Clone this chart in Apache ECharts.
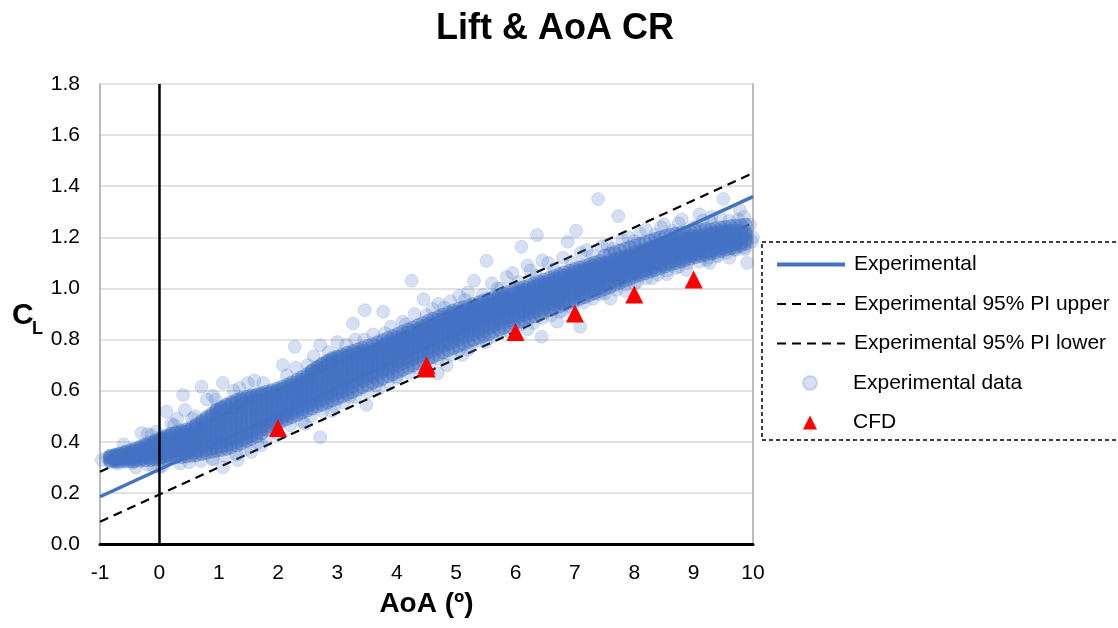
<!DOCTYPE html>
<html>
<head>
<meta charset="utf-8">
<script src="https://cdn.jsdelivr.net/npm/echarts@6/dist/echarts.min.js"></script>
<style>
  html, body { margin: 0; padding: 0; background: #ffffff; }
  #chart { width: 1118px; height: 628px; }
</style>
</head>
<body>
<div id="chart"></div>
<script>
// Linear fit of the experimental lift curve and its 95% prediction band (end points at AoA -1 and 10)
const fitAoA = [-1, 10];
const fitCL = [0.185, 1.359];
const piUpperCL = [0.283, 1.451];
const piLowerCL = [0.087, 1.257];

// CFD results
const cfdAoA = [2, 4.5, 4.5, 6, 7, 8, 9];
const cfdCL = [0.454, 0.687, 0.699, 0.830, 0.902, 0.976, 1.035];

// Experimental samples, dense part of the cloud: CL readings grouped by AoA
const coreAoA = [
  -0.83, -0.74, -0.66, -0.57, -0.48, -0.41, -0.32, -0.24, -0.15, -0.07,
  0.02, 0.11, 0.19, 0.28, 0.37, 0.45, 0.54, 0.62, 0.71, 0.79,
  0.88, 0.96, 1.04, 1.13, 1.21, 1.30, 1.38, 1.47, 1.55, 1.64,
  1.72, 1.81, 1.89, 1.98, 2.06, 2.15, 2.23, 2.32, 2.40, 2.49,
  2.57, 2.66, 2.74, 2.83, 2.91, 3.00, 3.08, 3.17, 3.25, 3.34,
  3.42, 3.51, 3.59, 3.68, 3.76, 3.85, 3.93, 4.02, 4.10, 4.19,
  4.27, 4.36, 4.44, 4.53, 4.61, 4.70, 4.78, 4.87, 4.95, 5.04,
  5.12, 5.21, 5.29, 5.38, 5.46, 5.55, 5.63, 5.72, 5.80, 5.89,
  5.97, 6.06, 6.14, 6.23, 6.31, 6.40, 6.48, 6.57, 6.65, 6.74,
  6.82, 6.91, 6.99, 7.08, 7.16, 7.25, 7.33, 7.42, 7.50, 7.59,
  7.67, 7.76, 7.84, 7.93, 8.01, 8.10, 8.18, 8.27, 8.35, 8.44,
  8.52, 8.61, 8.69, 8.78, 8.86, 8.95, 9.03, 9.12, 9.20, 9.29,
  9.37, 9.46, 9.54, 9.63, 9.71, 9.80, 9.88
];
const coreCL = [
  [0.328, 0.336, 0.341],
  [0.327, 0.333, 0.342, 0.347],
  [0.331, 0.338, 0.343, 0.351],
  [0.329, 0.336, 0.345, 0.352, 0.358],
  [0.333, 0.339, 0.348, 0.356, 0.362],
  [0.331, 0.342, 0.350, 0.355, 0.366],
  [0.335, 0.341, 0.352, 0.362, 0.369, 0.376],
  [0.338, 0.346, 0.354, 0.366, 0.372, 0.383],
  [0.336, 0.348, 0.357, 0.363, 0.377, 0.385, 0.392],
  [0.341, 0.350, 0.358, 0.371, 0.379, 0.391, 0.398],
  [0.339, 0.352, 0.362, 0.370, 0.384, 0.392, 0.404, 0.410],
  [0.344, 0.353, 0.366, 0.377, 0.386, 0.399, 0.408, 0.418],
  [0.347, 0.360, 0.368, 0.381, 0.394, 0.402, 0.415, 0.424],
  [0.349, 0.362, 0.374, 0.383, 0.397, 0.409, 0.418, 0.431],
  [0.352, 0.360, 0.375, 0.388, 0.396, 0.411, 0.424, 0.436],
  [0.354, 0.367, 0.378, 0.392, 0.403, 0.414, 0.429, 0.441],
  [0.357, 0.370, 0.383, 0.393, 0.408, 0.421, 0.433, 0.447],
  [0.360, 0.373, 0.386, 0.399, 0.412, 0.425, 0.440, 0.452, 0.461],
  [0.365, 0.379, 0.390, 0.405, 0.419, 0.433, 0.446, 0.462, 0.474],
  [0.369, 0.384, 0.397, 0.413, 0.427, 0.444, 0.458, 0.473, 0.489],
  [0.374, 0.388, 0.405, 0.419, 0.437, 0.452, 0.469, 0.486, 0.502],
  [0.378, 0.395, 0.410, 0.426, 0.443, 0.460, 0.476, 0.494, 0.510, 0.521],
  [0.382, 0.397, 0.414, 0.431, 0.448, 0.466, 0.483, 0.499, 0.516, 0.530],
  [0.386, 0.403, 0.420, 0.436, 0.455, 0.471, 0.490, 0.507, 0.523, 0.539],
  [0.391, 0.409, 0.425, 0.444, 0.461, 0.480, 0.497, 0.513, 0.531, 0.548],
  [0.399, 0.416, 0.435, 0.451, 0.470, 0.487, 0.506, 0.522, 0.539, 0.555],
  [0.407, 0.425, 0.443, 0.460, 0.479, 0.497, 0.513, 0.531, 0.548, 0.563],
  [0.416, 0.434, 0.451, 0.470, 0.488, 0.505, 0.524, 0.540, 0.556, 0.569],
  [0.424, 0.441, 0.460, 0.478, 0.495, 0.513, 0.531, 0.546, 0.561, 0.575],
  [0.435, 0.452, 0.469, 0.487, 0.504, 0.521, 0.537, 0.553, 0.567, 0.579],
  [0.447, 0.463, 0.480, 0.497, 0.513, 0.529, 0.546, 0.560, 0.573, 0.584],
  [0.461, 0.477, 0.493, 0.509, 0.525, 0.540, 0.556, 0.570, 0.587],
  [0.473, 0.488, 0.504, 0.519, 0.534, 0.551, 0.565, 0.579, 0.593],
  [0.487, 0.501, 0.517, 0.531, 0.547, 0.560, 0.576, 0.589, 0.599],
  [0.495, 0.510, 0.524, 0.539, 0.553, 0.568, 0.581, 0.595, 0.606],
  [0.503, 0.519, 0.533, 0.548, 0.562, 0.577, 0.590, 0.603, 0.614],
  [0.512, 0.527, 0.541, 0.556, 0.571, 0.584, 0.598, 0.611, 0.622],
  [0.521, 0.536, 0.550, 0.566, 0.580, 0.594, 0.607, 0.620, 0.633],
  [0.529, 0.544, 0.559, 0.574, 0.589, 0.602, 0.617, 0.630, 0.643],
  [0.538, 0.553, 0.569, 0.584, 0.599, 0.613, 0.627, 0.641, 0.655],
  [0.546, 0.562, 0.578, 0.593, 0.609, 0.624, 0.639, 0.654, 0.667, 0.677],
  [0.555, 0.571, 0.587, 0.603, 0.619, 0.635, 0.650, 0.665, 0.679, 0.690],
  [0.563, 0.580, 0.596, 0.612, 0.628, 0.645, 0.660, 0.675, 0.690, 0.701],
  [0.572, 0.588, 0.605, 0.621, 0.638, 0.654, 0.670, 0.685, 0.700, 0.712],
  [0.580, 0.597, 0.613, 0.630, 0.646, 0.662, 0.678, 0.694, 0.708, 0.721],
  [0.589, 0.606, 0.622, 0.639, 0.655, 0.671, 0.687, 0.702, 0.717, 0.729],
  [0.597, 0.614, 0.631, 0.647, 0.663, 0.679, 0.694, 0.709, 0.722, 0.734],
  [0.607, 0.623, 0.639, 0.656, 0.671, 0.687, 0.702, 0.716, 0.729, 0.739],
  [0.616, 0.632, 0.648, 0.664, 0.679, 0.694, 0.709, 0.723, 0.736, 0.745],
  [0.627, 0.643, 0.658, 0.673, 0.688, 0.702, 0.717, 0.730, 0.742, 0.750],
  [0.637, 0.652, 0.667, 0.682, 0.696, 0.711, 0.724, 0.737, 0.748, 0.756],
  [0.647, 0.662, 0.677, 0.691, 0.706, 0.720, 0.733, 0.745, 0.756],
  [0.655, 0.670, 0.685, 0.699, 0.714, 0.727, 0.741, 0.753, 0.763],
  [0.664, 0.679, 0.694, 0.708, 0.723, 0.736, 0.750, 0.762, 0.772],
  [0.673, 0.688, 0.702, 0.717, 0.731, 0.745, 0.758, 0.770, 0.781],
  [0.681, 0.696, 0.711, 0.725, 0.740, 0.754, 0.767, 0.779, 0.790],
  [0.689, 0.704, 0.719, 0.733, 0.748, 0.762, 0.775, 0.787, 0.798],
  [0.698, 0.713, 0.728, 0.742, 0.757, 0.771, 0.784, 0.796, 0.808],
  [0.706, 0.721, 0.736, 0.750, 0.765, 0.779, 0.792, 0.805, 0.816],
  [0.715, 0.730, 0.745, 0.759, 0.774, 0.788, 0.801, 0.814, 0.826],
  [0.723, 0.738, 0.753, 0.767, 0.782, 0.796, 0.809, 0.822, 0.834],
  [0.732, 0.747, 0.762, 0.776, 0.791, 0.805, 0.818, 0.831, 0.843],
  [0.740, 0.755, 0.770, 0.784, 0.799, 0.813, 0.826, 0.839, 0.851],
  [0.749, 0.764, 0.779, 0.793, 0.808, 0.822, 0.835, 0.848, 0.860],
  [0.757, 0.772, 0.787, 0.801, 0.816, 0.830, 0.843, 0.856, 0.868],
  [0.766, 0.781, 0.796, 0.810, 0.825, 0.839, 0.852, 0.865, 0.877],
  [0.774, 0.789, 0.804, 0.818, 0.833, 0.847, 0.860, 0.873, 0.885],
  [0.783, 0.798, 0.813, 0.827, 0.842, 0.856, 0.869, 0.882, 0.894],
  [0.791, 0.806, 0.821, 0.835, 0.850, 0.864, 0.877, 0.890, 0.902],
  [0.800, 0.814, 0.829, 0.843, 0.858, 0.872, 0.885, 0.898, 0.909],
  [0.807, 0.822, 0.836, 0.851, 0.865, 0.878, 0.891, 0.904, 0.914],
  [0.815, 0.830, 0.844, 0.858, 0.872, 0.885, 0.898, 0.910, 0.920],
  [0.822, 0.837, 0.851, 0.865, 0.879, 0.892, 0.905, 0.917, 0.927],
  [0.830, 0.845, 0.859, 0.873, 0.886, 0.899, 0.912, 0.924, 0.934],
  [0.837, 0.852, 0.866, 0.880, 0.893, 0.906, 0.919, 0.930, 0.941],
  [0.845, 0.860, 0.874, 0.887, 0.901, 0.914, 0.926, 0.938, 0.948],
  [0.852, 0.866, 0.880, 0.894, 0.908, 0.921, 0.933, 0.945, 0.955],
  [0.860, 0.874, 0.888, 0.902, 0.915, 0.928, 0.940, 0.952, 0.962],
  [0.867, 0.881, 0.895, 0.909, 0.922, 0.935, 0.947, 0.958, 0.968],
  [0.875, 0.889, 0.903, 0.916, 0.929, 0.942, 0.954, 0.966, 0.975],
  [0.882, 0.896, 0.910, 0.923, 0.936, 0.949, 0.961, 0.972, 0.981],
  [0.890, 0.904, 0.917, 0.930, 0.943, 0.956, 0.968, 0.979, 0.988],
  [0.896, 0.910, 0.923, 0.937, 0.950, 0.962, 0.974, 0.985, 0.994],
  [0.903, 0.917, 0.930, 0.944, 0.957, 0.969, 0.981, 0.992, 1.001],
  [0.909, 0.923, 0.937, 0.950, 0.963, 0.976, 0.988, 0.999, 1.008],
  [0.917, 0.931, 0.945, 0.958, 0.971, 0.984, 0.996, 1.007, 1.016],
  [0.923, 0.937, 0.951, 0.964, 0.977, 0.990, 1.002, 1.013, 1.022],
  [0.930, 0.944, 0.958, 0.972, 0.985, 0.998, 1.010, 1.021, 1.030],
  [0.937, 0.951, 0.965, 0.978, 0.991, 1.004, 1.016, 1.027, 1.037],
  [0.943, 0.957, 0.971, 0.985, 0.998, 1.011, 1.023, 1.035, 1.045],
  [0.950, 0.964, 0.978, 0.991, 1.004, 1.017, 1.029, 1.041, 1.051],
  [0.957, 0.971, 0.985, 0.998, 1.011, 1.024, 1.036, 1.048, 1.058],
  [0.964, 0.978, 0.991, 1.005, 1.018, 1.031, 1.043, 1.054, 1.064],
  [0.972, 0.986, 0.999, 1.012, 1.025, 1.038, 1.050, 1.061, 1.071],
  [0.979, 0.993, 1.006, 1.019, 1.032, 1.044, 1.056, 1.067, 1.077],
  [0.987, 1.001, 1.014, 1.027, 1.039, 1.051, 1.063, 1.074, 1.084],
  [0.995, 1.009, 1.021, 1.034, 1.046, 1.058, 1.069, 1.080, 1.090],
  [1.003, 1.017, 1.029, 1.042, 1.054, 1.066, 1.077, 1.087, 1.096],
  [1.011, 1.024, 1.037, 1.049, 1.061, 1.072, 1.083, 1.093, 1.102],
  [1.019, 1.032, 1.045, 1.057, 1.068, 1.080, 1.090, 1.100, 1.109],
  [1.027, 1.040, 1.052, 1.064, 1.075, 1.086, 1.097, 1.107, 1.115],
  [1.036, 1.048, 1.060, 1.072, 1.083, 1.094, 1.104, 1.114, 1.122],
  [1.043, 1.055, 1.067, 1.079, 1.090, 1.100, 1.110, 1.120, 1.128],
  [1.051, 1.063, 1.075, 1.086, 1.097, 1.107, 1.117, 1.127, 1.135],
  [1.058, 1.070, 1.082, 1.093, 1.104, 1.114, 1.124, 1.133, 1.141],
  [1.065, 1.077, 1.088, 1.099, 1.110, 1.120, 1.130, 1.139, 1.148],
  [1.071, 1.083, 1.094, 1.105, 1.116, 1.126, 1.136, 1.145, 1.154],
  [1.078, 1.090, 1.101, 1.112, 1.123, 1.133, 1.143, 1.152, 1.161],
  [1.084, 1.096, 1.107, 1.118, 1.129, 1.139, 1.149, 1.158, 1.167],
  [1.091, 1.103, 1.114, 1.125, 1.136, 1.146, 1.156, 1.165, 1.173],
  [1.097, 1.109, 1.120, 1.131, 1.142, 1.152, 1.162, 1.171, 1.179],
  [1.104, 1.116, 1.127, 1.138, 1.149, 1.159, 1.168, 1.177, 1.185],
  [1.110, 1.122, 1.133, 1.144, 1.155, 1.165, 1.174, 1.183, 1.190],
  [1.116, 1.128, 1.139, 1.150, 1.161, 1.171, 1.180, 1.188, 1.195],
  [1.121, 1.133, 1.144, 1.155, 1.166, 1.176, 1.185, 1.193, 1.200],
  [1.127, 1.139, 1.150, 1.161, 1.171, 1.181, 1.190, 1.198, 1.205],
  [1.132, 1.144, 1.155, 1.166, 1.176, 1.186, 1.195, 1.203],
  [1.137, 1.149, 1.160, 1.171, 1.181, 1.191, 1.200, 1.208],
  [1.142, 1.154, 1.165, 1.176, 1.186, 1.196, 1.205, 1.212],
  [1.147, 1.159, 1.170, 1.181, 1.191, 1.201, 1.209, 1.216],
  [1.152, 1.164, 1.175, 1.186, 1.196, 1.205, 1.213, 1.220],
  [1.157, 1.169, 1.180, 1.190, 1.200, 1.209, 1.217, 1.224],
  [1.162, 1.173, 1.184, 1.194, 1.204, 1.213, 1.221, 1.228],
  [1.167, 1.178, 1.189, 1.199, 1.208, 1.217, 1.225],
  [1.172, 1.183, 1.193, 1.203, 1.212, 1.220, 1.228],
  [1.178, 1.190, 1.200, 1.209, 1.218, 1.226],
  [1.185, 1.196, 1.206, 1.215, 1.223]
];

// Lowest and highest CL readings of the dense cloud at each AoA of coreAoA
const coreEdgeCL = [
  [0.322, 0.345], [0.321, 0.350], [0.322, 0.355], [0.323, 0.362], [0.324, 0.368],
  [0.324, 0.373], [0.326, 0.382], [0.328, 0.389], [0.329, 0.398], [0.331, 0.405],
  [0.332, 0.415], [0.334, 0.424], [0.337, 0.431], [0.339, 0.438], [0.340, 0.443],
  [0.342, 0.449], [0.345, 0.456], [0.348, 0.468], [0.352, 0.482], [0.356, 0.497],
  [0.361, 0.510], [0.365, 0.527], [0.368, 0.536], [0.372, 0.546], [0.377, 0.555],
  [0.385, 0.563], [0.393, 0.570], [0.403, 0.576], [0.411, 0.582], [0.421, 0.586],
  [0.432, 0.591], [0.447, 0.596], [0.460, 0.602], [0.472, 0.608], [0.480, 0.615],
  [0.488, 0.624], [0.496, 0.633], [0.505, 0.643], [0.513, 0.653], [0.522, 0.665],
  [0.530, 0.680], [0.538, 0.693], [0.545, 0.706], [0.553, 0.717], [0.561, 0.727],
  [0.569, 0.735], [0.577, 0.742], [0.586, 0.749], [0.594, 0.755], [0.604, 0.762],
  [0.613, 0.768], [0.622, 0.775], [0.630, 0.782], [0.639, 0.790], [0.647, 0.798],
  [0.656, 0.806], [0.664, 0.814], [0.673, 0.823], [0.681, 0.831], [0.690, 0.840],
  [0.698, 0.848], [0.707, 0.857], [0.715, 0.865], [0.724, 0.874], [0.732, 0.882],
  [0.741, 0.890], [0.749, 0.898], [0.758, 0.907], [0.766, 0.914], [0.775, 0.921],
  [0.783, 0.926], [0.791, 0.932], [0.799, 0.939], [0.807, 0.946], [0.814, 0.953],
  [0.822, 0.960], [0.830, 0.967], [0.838, 0.974], [0.846, 0.980], [0.853, 0.987],
  [0.861, 0.993], [0.869, 1.000], [0.876, 1.006], [0.884, 1.013], [0.891, 1.020],
  [0.899, 1.028], [0.906, 1.034], [0.914, 1.042], [0.921, 1.049], [0.929, 1.057],
  [0.936, 1.063], [0.944, 1.070], [0.951, 1.076], [0.959, 1.083], [0.966, 1.089],
  [0.974, 1.096], [0.981, 1.102], [0.989, 1.108], [0.997, 1.129], [1.005, 1.136],
  [1.013, 1.142], [1.022, 1.149], [1.030, 1.155], [1.038, 1.162], [1.046, 1.168],
  [1.053, 1.175], [1.059, 1.181], [1.066, 1.188], [1.072, 1.194], [1.079, 1.200],
  [1.086, 1.205], [1.093, 1.210], [1.099, 1.214], [1.105, 1.217], [1.111, 1.220],
  [1.117, 1.224], [1.122, 1.227], [1.127, 1.230], [1.132, 1.233], [1.137, 1.231],
  [1.142, 1.235], [1.147, 1.238], [1.152, 1.241], [1.157, 1.244], [1.162, 1.246],
  [1.168, 1.248], [1.175, 1.250]
];

// Experimental samples, scattered part of the cloud: [AoA, CL]
const sparseSamples = [
  [-0.97, 0.329], [-0.88, 0.338], [-0.75, 0.342], [-0.62, 0.350], [-0.53, 0.356],
  [-0.45, 0.318], [-0.70, 0.315], [-0.30, 0.434], [-0.13, 0.426], [-0.20, 0.310],
  [0.05, 0.305], [-0.05, 0.440], [0.12, 0.518], [0.43, 0.524], [0.40, 0.583],
  [0.71, 0.615], [0.25, 0.465], [0.55, 0.490], [0.80, 0.565], [1.07, 0.630],
  [1.25, 0.600], [1.49, 0.630], [1.07, 0.300], [1.32, 0.329], [0.90, 0.335],
  [1.55, 0.360], [1.72, 0.387], [2.00, 0.430], [2.08, 0.700], [2.28, 0.772],
  [2.71, 0.418], [2.45, 0.470], [2.90, 0.520], [3.21, 0.576], [3.49, 0.544],
  [3.70, 0.610], [4.00, 0.650], [4.69, 0.668], [4.84, 0.700], [5.10, 0.740],
  [2.71, 0.778], [3.00, 0.790], [3.26, 0.863], [3.46, 0.915], [3.77, 0.909],
  [4.25, 1.030], [4.45, 0.958], [4.10, 0.870], [3.60, 0.820], [4.60, 0.920],
  [4.90, 0.950], [5.20, 0.985], [5.51, 1.108], [5.30, 1.030], [5.70, 1.000],
  [6.10, 1.163], [6.36, 1.209], [5.95, 1.060], [6.20, 1.090], [6.45, 1.110],
  [6.88, 1.183], [7.02, 1.226], [7.39, 1.350], [7.73, 1.283], [7.20, 1.150],
  [7.55, 1.170], [7.90, 1.200], [8.20, 1.230], [8.50, 1.250], [8.80, 1.270],
  [9.10, 1.290], [9.50, 1.350], [9.78, 1.307], [9.30, 1.280], [9.98, 1.183],
  [9.87, 1.154], [9.70, 1.154], [9.22, 1.111], [8.97, 1.131], [8.88, 1.072],
  [8.55, 1.056], [8.30, 1.040], [8.00, 1.020], [7.42, 0.978], [7.09, 0.850],
  [6.75, 0.909], [6.44, 0.811], [6.70, 0.870], [6.20, 0.840], [5.90, 0.830],
  [5.50, 0.790], [5.20, 0.760], [7.60, 0.960], [7.85, 0.990], [8.70, 1.080],
  [9.40, 1.130], [9.60, 1.120], [10.0, 1.200], [9.90, 1.100], [9.27, 1.100],
  [9.95, 1.250], [9.85, 1.280],
  [-0.60, 0.390], [-0.20, 0.430], [0.20, 0.470], [0.60, 0.500], [0.95, 0.565],
  [1.35, 0.610], [1.75, 0.630], [2.15, 0.660], [2.50, 0.700], [2.85, 0.750],
  [3.15, 0.780], [3.45, 0.800], [3.80, 0.825], [4.15, 0.860], [4.50, 0.895],
  [4.80, 0.925], [5.15, 0.955], [5.45, 0.975], [5.75, 1.000], [6.05, 1.025],
  [6.35, 1.050], [6.65, 1.075], [6.95, 1.100], [7.30, 1.130], [7.65, 1.155],
  [8.00, 1.185], [8.35, 1.210], [8.65, 1.225], [9.00, 1.240], [9.30, 1.255],
  [9.60, 1.265],
  [-0.40, 0.300], [0.00, 0.300], [0.35, 0.315], [0.70, 0.325], [1.10, 0.345],
  [1.45, 0.370], [1.80, 0.415], [2.20, 0.465], [2.55, 0.500], [2.95, 0.540],
  [3.30, 0.575], [3.65, 0.620], [4.00, 0.655], [4.35, 0.690], [4.70, 0.725],
  [5.05, 0.760], [5.40, 0.795], [5.75, 0.830], [6.10, 0.860], [6.45, 0.885],
  [6.80, 0.915], [7.15, 0.945], [7.50, 0.980], [7.85, 1.015], [8.20, 1.040],
  [8.55, 1.070], [8.90, 1.100], [9.25, 1.120], [9.55, 1.140], [9.85, 1.160],
  [0.30, 0.490], [0.90, 0.580], [1.60, 0.640], [2.30, 0.690], [2.60, 0.735],
  [3.30, 0.800], [3.90, 0.850], [4.30, 0.900], [4.70, 0.940], [5.05, 0.970],
  [5.60, 1.020], [5.85, 1.045], [6.25, 1.070], [6.55, 1.100], [6.80, 1.120],
  [7.10, 1.140], [7.45, 1.165], [7.80, 1.190], [8.10, 1.215], [8.45, 1.240],
  [8.75, 1.255], [9.15, 1.265], [9.45, 1.275], [9.75, 1.270],
  [-0.10, 0.305], [0.50, 0.320], [0.90, 0.330], [1.30, 0.350], [1.65, 0.395],
  [2.40, 0.480], [2.75, 0.520], [3.10, 0.555], [3.50, 0.595], [3.85, 0.635],
  [4.20, 0.670], [4.55, 0.705], [4.90, 0.740], [5.25, 0.775], [5.60, 0.810],
  [6.30, 0.865], [6.60, 0.895], [6.95, 0.925], [7.30, 0.960], [7.70, 0.995],
  [8.05, 1.025], [8.40, 1.055], [8.75, 1.085], [9.10, 1.105], [9.40, 1.125],
  [9.70, 1.150]
];

// Axis ticks
const xTicks = { min: -1, max: 10, step: 1 };
const yTicks = { min: 0, max: 1.8, step: 0.2 };

const FONT = "'Liberation Sans', Arial, sans-serif";
const BLUE = '#4472C4';

const pairs = (xs, ys) => xs.map((x, i) => [x, ys[i]]);
const coreData = coreAoA
  .flatMap((a, i) => coreCL[i].concat(coreEdgeCL[i]).map(c => [a, c]));

const chart = echarts.init(document.getElementById('chart'), null, { renderer: 'canvas' });

const legendText = { fontFamily: FONT, fontSize: 21, color: '#000000', lineHeight: 21 };

chart.setOption({
  animation: false,
  backgroundColor: '#ffffff',
  textStyle: { fontFamily: FONT },
  title: {
    text: 'Lift & AoA CR',
    left: 431,
    top: 6,
    textStyle: { fontFamily: FONT, fontSize: 36, fontWeight: 'bold', color: '#000000' }
  },
  grid: { left: 100, right: 365, top: 84, bottom: 84, containLabel: false },
  xAxis: {
    type: 'value',
    min: xTicks.min,
    max: xTicks.max,
    interval: xTicks.step,
    name: 'AoA (º)',
    nameLocation: 'middle',
    nameGap: 46,
    nameTextStyle: { fontFamily: FONT, fontSize: 28, fontWeight: 'bold', color: '#000000' },
    axisLine: { show: true, onZero: false, lineStyle: { color: '#000000', width: 3 } },
    axisTick: { show: false },
    splitLine: { show: false },
    axisLabel: { margin: 19, fontFamily: FONT, fontSize: 21, color: '#000000' }
  },
  yAxis: [
    {
      type: 'value',
      min: yTicks.min,
      max: yTicks.max,
      interval: yTicks.step,
      axisLine: { show: true, onZero: false, lineStyle: { color: '#a6a6a6', width: 1.5 } },
      axisTick: { show: false },
      splitLine: { show: true, lineStyle: { color: '#d9d9d9', width: 1.5 } },
      axisLabel: {
        margin: 20, fontFamily: FONT, fontSize: 21, color: '#000000',
        formatter: v => v.toFixed(1)
      }
    },
    {
      type: 'value',
      position: 'right',
      min: yTicks.min,
      max: yTicks.max,
      interval: yTicks.step,
      axisLine: { show: true, onZero: false, lineStyle: { color: '#a6a6a6', width: 1.5 } },
      axisTick: { show: false },
      axisLabel: { show: false },
      splitLine: { show: false }
    }
  ],
  legend: [
    {
      // line entries
      orient: 'vertical',
      left: 775,
      top: 254,
      padding: 0,
      itemWidth: 68,
      itemHeight: 14,
      itemGap: 18.5,
      textStyle: Object.assign({ padding: [0, 0, 0, 4] }, legendText),
      data: [
        { name: 'Experimental', itemStyle: { opacity: 0 }, lineStyle: { width: 4 } },
        { name: 'Experimental 95% PI upper', itemStyle: { opacity: 0 } },
        { name: 'Experimental 95% PI lower', itemStyle: { opacity: 0 } }
      ]
    },
    {
      // marker entries
      orient: 'vertical',
      left: 802,
      top: 372.5,
      padding: 0,
      itemWidth: 14,
      itemHeight: 14,
      itemGap: 18.5,
      textStyle: Object.assign({ padding: [0, 0, 0, 31] }, legendText),
      data: ['Experimental data', 'CFD']
    }
  ],
  graphic: [
    {
      type: 'rect',
      z: 1,
      shape: { x: 762, y: 242, width: 400, height: 198 },
      style: { fill: '#ffffff', stroke: '#000000', lineWidth: 1.5, lineDash: [4, 3] }
    },
    {
      type: 'text',
      z: 10,
      style: { text: 'C', x: 12, y: 316, verticalAlign: 'middle', font: 'bold 30px ' + FONT, fill: '#000000' }
    },
    {
      type: 'text',
      z: 10,
      style: { text: 'L', x: 32, y: 329, verticalAlign: 'middle', font: 'bold 18px ' + FONT, fill: '#000000' }
    }
  ],
  series: [
    {
      name: 'Experimental',
      type: 'line',
      data: pairs(fitAoA, fitCL),
      symbol: 'none',
      z: 2,
      lineStyle: { color: BLUE, width: 3.5 },
      itemStyle: { color: BLUE },
      markLine: {
        silent: true,
        symbol: ['none', 'none'],
        label: { show: false },
        lineStyle: { color: '#000000', width: 2.5, type: 'solid' },
        data: [{ xAxis: 0 }]
      }
    },
    {
      name: 'Experimental 95% PI upper',
      type: 'line',
      data: pairs(fitAoA, piUpperCL),
      symbol: 'none',
      z: 2,
      lineStyle: { color: '#000000', width: 2.2, type: [9, 6] },
      itemStyle: { color: '#000000' }
    },
    {
      name: 'Experimental 95% PI lower',
      type: 'line',
      data: pairs(fitAoA, piLowerCL),
      symbol: 'none',
      z: 2,
      lineStyle: { color: '#000000', width: 2.2, type: [9, 6] },
      itemStyle: { color: '#000000' }
    },
    {
      // scattered samples (drawn first so the legend takes its pale marker)
      name: 'Experimental data',
      type: 'scatter',
      data: sparseSamples,
      symbol: 'circle',
      symbolSize: 13,
      z: 3,
      itemStyle: { color: BLUE, opacity: 0.22, borderColor: BLUE, borderWidth: 0.8 }
    },
    {
      // densely overlapping samples
      name: 'Experimental data',
      type: 'scatter',
      data: coreData,
      symbol: 'circle',
      symbolSize: 13,
      z: 3,
      large: false,
      progressive: 0,
      itemStyle: { color: BLUE, opacity: 0.45, borderColor: BLUE, borderWidth: 0.8 }
    },
    {
      name: 'CFD',
      type: 'scatter',
      data: pairs(cfdAoA, cfdCL),
      symbol: 'triangle',
      symbolSize: [18, 18],
      z: 4,
      itemStyle: { color: '#ff0000', opacity: 1 }
    }
  ]
});
</script>
</body>
</html>
